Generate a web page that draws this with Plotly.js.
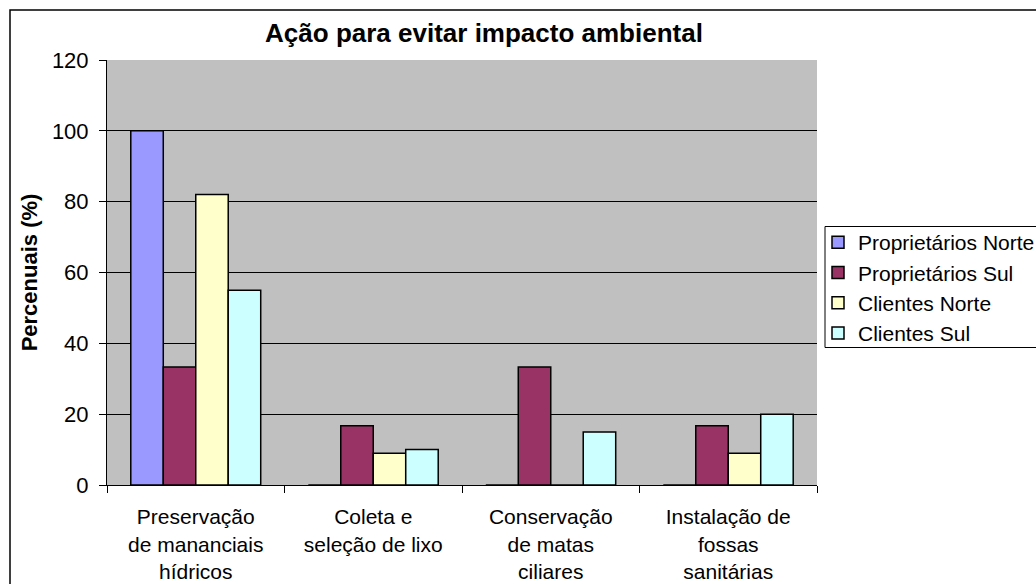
<!DOCTYPE html>
<html>
<head>
<meta charset="utf-8">
<script src="https://cdn.plot.ly/plotly-3.0.1.min.js"></script>
<style>html,body{margin:0;padding:0;background:#fff;}#chart{width:1036px;height:584px;}</style>
</head>
<body>
<div id="chart"></div>
<script>
var categories = [
  "Preservação<br>de mananciais<br>hídricos",
  "Coleta e<br>seleção de lixo",
  "Conservação<br>de matas<br>ciliares",
  "Instalação de<br>fossas<br>sanitárias"
];
var seriesNames = ["Proprietários Norte", "Proprietários Sul", "Clientes Norte", "Clientes Sul"];
var proprietariosNorte = [100, 0, 0, 0];
var proprietariosSul = [33.3, 16.7, 33.3, 16.7];
var clientesNorte = [82, 9, 0, 9];
var clientesSul = [55, 10, 15, 20];
var seriesColors = ["#9999FF", "#993366", "#FFFFCC", "#CCFFFF"];
var yTicks = [0, 20, 40, 60, 80, 100, 120];

var allValues = [proprietariosNorte, proprietariosSul, clientesNorte, clientesSul];
var FONT = "Liberation Sans, Arial, sans-serif";

var traces = allValues.map(function (vals, i) {
  return {
    type: "bar",
    name: seriesNames[i],
    x: categories,
    y: vals,
    legendgroup: "g" + i,
    marker: { color: seriesColors[i], line: { color: "#000", width: 1.5 } },
    hoverinfo: "y+name"
  };
});

var L = 107, R = 817, T = 60, B = 485, W = 1036, H = 584;
var pw = R - L, ph = B - T;
function px(x) { return (x - L) / pw; }
function py(y) { return (B - y) / ph; }

var layout = {
  width: W, height: H,
  margin: { l: L, r: W - R, t: T, b: H - B, pad: 0, autoexpand: false },
  paper_bgcolor: "#fff",
  plot_bgcolor: "#C0C0C0",
  barmode: "group",
  bargap: 0.268,
  bargroupgap: 0,
  font: { family: FONT, color: "#000" },
  title: {
    text: "<b>Ação para evitar impacto ambiental</b>",
    font: { family: FONT, size: 26, color: "#000" },
    xref: "container", yref: "container",
    x: 484 / W, xanchor: "center",
    y: 1 - 33 / H, yanchor: "middle"
  },
  xaxis: {
    type: "category",
    showgrid: false,
    showline: true, linecolor: "#000", linewidth: 1,
    ticks: "outside", tickson: "boundaries", ticklen: 7, tickcolor: "#000", tickwidth: 1,
    tickfont: { family: FONT, size: 21, color: "#000" },
    ticklabelstandoff: 13,
    zeroline: false,
    automargin: false
  },
  yaxis: {
    range: [0, 120],
    tickvals: yTicks,
    ticktext: yTicks.map(String),
    showgrid: true, gridcolor: "#000", gridwidth: 1,
    showline: true, linecolor: "#000", linewidth: 1,
    ticks: "outside", ticklen: 7, tickcolor: "#000", tickwidth: 1,
    tickfont: { family: FONT, size: 22, color: "#000" },
    ticklabelstandoff: 6,
    zeroline: false,
    automargin: false,
    title: { text: "<b>Percenuais (%)</b>", font: { family: FONT, size: 22, color: "#000" }, standoff: 8 }
  },
  showlegend: true,
  legend: {
    x: px(818), xanchor: "left",
    y: py(222), yanchor: "top",
    bgcolor: "rgba(0,0,0,0)",
    borderwidth: 0,
    font: { family: FONT, size: 21, color: "#000" },
    traceorder: "grouped",
    tracegroupgap: 0
  },
  shapes: [
    { type: "rect", xref: "paper", yref: "paper",
      x0: px(10), x1: px(1045), y0: py(10), y1: py(600),
      line: { color: "#000", width: 1.5 }, fillcolor: "rgba(0,0,0,0)", layer: "below" },
    { type: "rect", xref: "paper", yref: "paper",
      x0: px(825), x1: px(1045), y0: py(226.5), y1: py(347.5),
      line: { color: "#000", width: 1 }, fillcolor: "#fff", layer: "below" }
  ]
};

Plotly.newPlot("chart", traces, layout, { displayModeBar: false, staticPlot: true });
</script>
</body>
</html>
